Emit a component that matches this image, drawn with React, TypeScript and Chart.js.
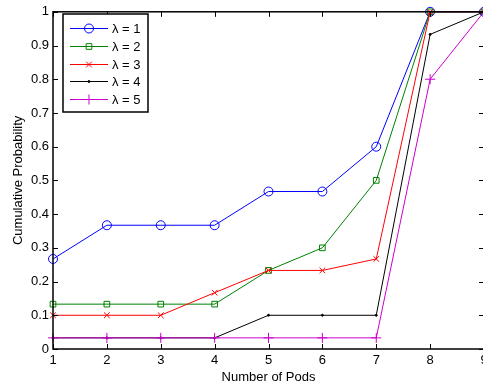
import React, { useEffect, useRef } from "react";
import { Chart, registerables } from "chart.js";

Chart.register(...registerables);

const xValues = [1, 2, 3, 4, 5, 6, 7, 8, 9];
const lambda1 = [0.267, 0.367, 0.367, 0.367, 0.467, 0.467, 0.6, 1, 1];
const lambda2 = [0.133, 0.133, 0.133, 0.133, 0.233, 0.3, 0.5, 1, 1];
const lambda3 = [0.1, 0.1, 0.1, 0.167, 0.233, 0.233, 0.267, 1, 1];
const lambda4 = [0.033, 0.033, 0.033, 0.033, 0.1, 0.1, 0.1, 0.933, 1];
const lambda5 = [0.033, 0.033, 0.033, 0.033, 0.033, 0.033, 0.033, 0.8, 1];
const seriesLabels = ["λ = 1", "λ = 2", "λ = 3", "λ = 4", "λ = 5"];
const xTitle = "Number of Pods";
const yTitle = "Cumulative Probability";

const FONT = "'Liberation Sans', Arial, Helvetica, sans-serif";
const colors = ["#0000ff", "#008000", "#ff0000", "#000000", "#cc00cc"];
const styles: any[] = [
  { pointStyle: "circle", pointRadius: 4.5 },
  { pointStyle: "rect", pointRadius: 4 },
  { pointStyle: "crossRot", pointRadius: 4 },
  { pointStyle: "circle", pointRadius: 1 },
  { pointStyle: "cross", pointRadius: 5 },
];

function drawMarker(ctx: any, style: string, r: number, x: number, y: number) {
  ctx.beginPath();
  if (style === "circle") {
    ctx.arc(x, y, r, 0, Math.PI * 2);
    ctx.fill();
    ctx.stroke();
  } else if (style === "rect") {
    const s = r * Math.SQRT1_2 * 2;
    ctx.rect(x - s / 2, y - s / 2, s, s);
    ctx.stroke();
  } else if (style === "crossRot") {
    const d = r * Math.SQRT1_2;
    ctx.moveTo(x - d, y - d);
    ctx.lineTo(x + d, y + d);
    ctx.moveTo(x - d, y + d);
    ctx.lineTo(x + d, y - d);
    ctx.stroke();
  } else if (style === "cross") {
    ctx.moveTo(x - r, y);
    ctx.lineTo(x + r, y);
    ctx.moveTo(x, y - r);
    ctx.lineTo(x, y + r);
    ctx.stroke();
  }
}

export default function App() {
  const ref = useRef<HTMLCanvasElement>(null);
  useEffect(() => {
    const all = [lambda1, lambda2, lambda3, lambda4, lambda5];
    const datasets = all.map((vals, i) => ({
      label: seriesLabels[i],
      data: vals.map((v, j) => ({ x: xValues[j], y: v })),
      borderColor: colors[i],
      backgroundColor: i === 3 ? colors[i] : "rgba(0,0,0,0)",
      pointBorderColor: colors[i],
      pointBackgroundColor: i === 3 ? colors[i] : "rgba(0,0,0,0)",
      borderWidth: 1,
      pointBorderWidth: 1,
      pointStyle: styles[i].pointStyle,
      pointRadius: styles[i].pointRadius,
      tension: 0,
      clip: false as any,
      order: 4 - i,
    }));

    const frame = {
      id: "frame",
      afterDraw(chart: any) {
        const ctx = chart.ctx;
        const a = chart.chartArea;
        const xs = chart.scales.x;
        const ys = chart.scales.y;
        ctx.save();
        ctx.strokeStyle = "#000";
        ctx.lineWidth = 1.5;
        ctx.strokeRect(a.left, a.top, a.right - a.left, a.bottom - a.top);
        ctx.lineWidth = 1;
        ctx.beginPath();
        xs.ticks.forEach((t: any) => {
          const px = Math.round(xs.getPixelForValue(t.value)) + 0.5;
          ctx.moveTo(px, a.bottom);
          ctx.lineTo(px, a.bottom - 5);
          ctx.moveTo(px, a.top);
          ctx.lineTo(px, a.top + 5);
        });
        ys.ticks.forEach((t: any) => {
          const py = Math.round(ys.getPixelForValue(t.value)) + 0.5;
          ctx.moveTo(a.left, py);
          ctx.lineTo(a.left + 5, py);
          ctx.moveTo(a.right, py);
          ctx.lineTo(a.right - 5, py);
        });
        ctx.stroke();

        // titles
        ctx.fillStyle = "#000";
        ctx.font = `13px ${FONT}`;
        ctx.textAlign = "center";
        ctx.textBaseline = "middle";
        ctx.fillText(xTitle, (a.left + a.right) / 2, 377);
        ctx.save();
        ctx.translate(18, (a.top + a.bottom) / 2);
        ctx.rotate(-Math.PI / 2);
        ctx.fillText(yTitle, 0, 0);
        ctx.restore();

        // legend
        const lx = 63, ly = 14, lw = 85, lh = 98;
        ctx.fillStyle = "#fff";
        ctx.fillRect(lx, ly, lw, lh);
        ctx.lineWidth = 1.5;
        ctx.strokeStyle = "#000";
        ctx.strokeRect(lx, ly, lw, lh);
        chart.data.datasets.forEach((ds: any, i: number) => {
          const y = Math.round(28 + i * 17.8) + 0.5;
          ctx.strokeStyle = ds.borderColor;
          ctx.fillStyle = ds.pointBackgroundColor;
          ctx.lineWidth = 1;
          ctx.beginPath();
          ctx.moveTo(70, y);
          ctx.lineTo(108, y);
          ctx.stroke();
          drawMarker(ctx, styles[i].pointStyle, styles[i].pointRadius, 89, y);
          ctx.fillStyle = "#000";
          ctx.textAlign = "left";
          ctx.textBaseline = "middle";
          ctx.font = `13px ${FONT}`;
          ctx.fillText(ds.label, 112, y + 0.5);
        });
        ctx.restore();
      },
    };

    const chart = new Chart(ref.current!, {
      type: "line",
      data: { datasets: datasets as any },
      options: {
        animation: false,
        responsive: false,
        devicePixelRatio: 1,
        layout: { padding: { top: 10, right: 8, left: 0, bottom: 0 } },
        plugins: { legend: { display: false }, tooltip: { enabled: false } },
        scales: {
          x: {
            type: "linear",
            min: 1,
            max: 9,
            ticks: {
              stepSize: 1,
              padding: 4,
              color: "#000",
              font: { family: FONT, size: 13 },
              maxRotation: 0,
            },
            grid: { display: false, drawTicks: false },
            border: { display: false },
            afterFit: (s: any) => {
              s.height = 40;
            },
          },
          y: {
            type: "linear",
            min: 0,
            max: 1,
            ticks: {
              stepSize: 0.1,
              padding: 4,
              color: "#000",
              font: { family: FONT, size: 13 },
              callback: (v: any) => String(Math.round(Number(v) * 10) / 10),
            },
            grid: { display: false, drawTicks: false },
            border: { display: false },
            afterFit: (s: any) => {
              s.width = 53;
            },
          },
        },
      },
      plugins: [frame],
    });
    return () => chart.destroy();
  }, []);

  return (
    <div style={{ position: "absolute", left: 0, top: 0, width: 492, height: 389, background: "#fff" }}>
      <canvas ref={ref} width={492} height={389} style={{ display: "block" }} />
    </div>
  );
}
